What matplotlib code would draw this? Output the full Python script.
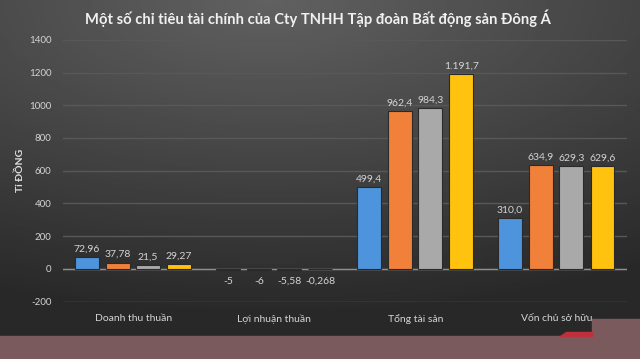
import numpy as np
from matplotlib import pyplot as plt
from matplotlib.patches import Rectangle, Polygon

categories = ['Doanh thu thuần', 'Lợi nhuận thuần', 'Tổng tài sản', 'Vốn chủ sở hữu']
series_a = [72.96, -5, 499.4, 310.0]
series_b = [37.78, -6, 962.4, 634.9]
series_c = [21.5, -5.58, 984.3, 629.3]
series_d = [29.27, -0.268, 1191.7, 629.6]
labels_a = ['72,96', '-5', '499,4', '310,0']
labels_b = ['37,78', '-6', '962,4', '634,9']
labels_c = ['21,5', '-5,58', '984,3', '629,3']
labels_d = ['29,27', '-0,268', '1.191,7', '629,6']
yticks = [-200, 0, 200, 400, 600, 800, 1000, 1200, 1400]

FONT = ['Lato', 'DejaVu Sans']


def run_chart():
    plt.rcParams['font.family'] = FONT
    fig = plt.figure(figsize=(6.4, 3.59), dpi=100)

    # dark gradient background, lighter at the top centre
    bg = fig.add_axes([0, 0, 1, 1], zorder=-10)
    gx, gy = np.meshgrid(np.linspace(0, 1, 320), np.linspace(0, 1, 180))
    d = np.sqrt(((gx - 0.42) * 1.0) ** 2 + ((gy - 0.0) * 1.25) ** 2)
    shade = np.clip(0.38 - 0.2 * d, 0.16, 0.38)
    bg.imshow(shade, cmap='gray', vmin=0, vmax=1, aspect='auto',
              extent=[0, 1, 0, 1], origin='upper')
    bg.set_xlim(0, 1)
    bg.set_ylim(0, 1)
    bg.axis('off')

    ax = fig.add_axes([0.098, 0.16, 0.882, 0.729])
    ax.patch.set_alpha(0)

    x = np.arange(len(categories))
    colors = ['#4e94dc', '#f0803a', '#a9a9a9', '#ffc20e']
    series = [series_a, series_b, series_c, series_d]
    labels = [labels_a, labels_b, labels_c, labels_d]
    offsets = [-0.33, -0.11, 0.105, 0.325]
    for vals, labs, col, off in zip(series, labels, colors, offsets):
        bars = ax.bar(x + off, vals, width=0.17, color=col,
                      edgecolor='#2a2a2a', linewidth=0.8, zorder=3)
        for b, v, t in zip(bars, vals, labs):
            xc = b.get_x() + b.get_width() / 2
            if v >= 0:
                ax.text(xc, v + 22, t, ha='center', va='bottom',
                        fontsize=7.5, color='#d4d4d4')
            else:
                ax.text(xc, v - 45, t, ha='center', va='top',
                        fontsize=7.5, color='#d4d4d4')

    ax.set_xlim(-0.5, 3.5)
    ax.set_ylim(-200, 1400)
    ax.set_yticks(yticks)
    ax.set_yticklabels([str(v) for v in yticks], fontsize=7, color='#d4d4d4')
    ax.set_xticks(x)
    ax.set_xticklabels(categories, fontsize=7.5, color='#d4d4d4')
    ax.tick_params(length=0, axis='both', pad=8)
    ax.tick_params(axis='x', pad=9)
    ax.grid(axis='y', color='#585858', linewidth=1, zorder=0)
    ax.axhline(0, color='#8e8e8e', linewidth=1, zorder=2)
    for s in ax.spines.values():
        s.set_visible(False)
    ax.set_ylabel('Tỉ ĐỒNG', fontsize=7.5, fontweight='bold',
                  color='#e0e0e0', labelpad=3)

    fig.text(0.497, 0.948, 'Một số chỉ tiêu tài chính của Cty TNHH Tập đoàn Bất động sản Đông Á',
             ha='center', va='center', fontsize=10.6, fontweight='bold', color='#f0f0f0')

    # pinkish strip at the bottom of the image
    fig.add_artist(Rectangle((0, 0), 1, 23 / 359, transform=fig.transFigure,
                             color='#7a5a5d', zorder=5))
    fig.add_artist(Rectangle((592 / 640, 0), 48 / 640, 40 / 359, transform=fig.transFigure,
                             color='#7a5a5d', zorder=5))
    fig.add_artist(Polygon([(560 / 640, 23 / 359), (592 / 640, 23 / 359),
                            (592 / 640, 27 / 359), (566 / 640, 27 / 359)],
                           closed=True, transform=fig.transFigure,
                           color='#c0303a', zorder=6))

    fig.savefig('out.png', dpi=100)


if __name__ == '__main__':
    run_chart()
